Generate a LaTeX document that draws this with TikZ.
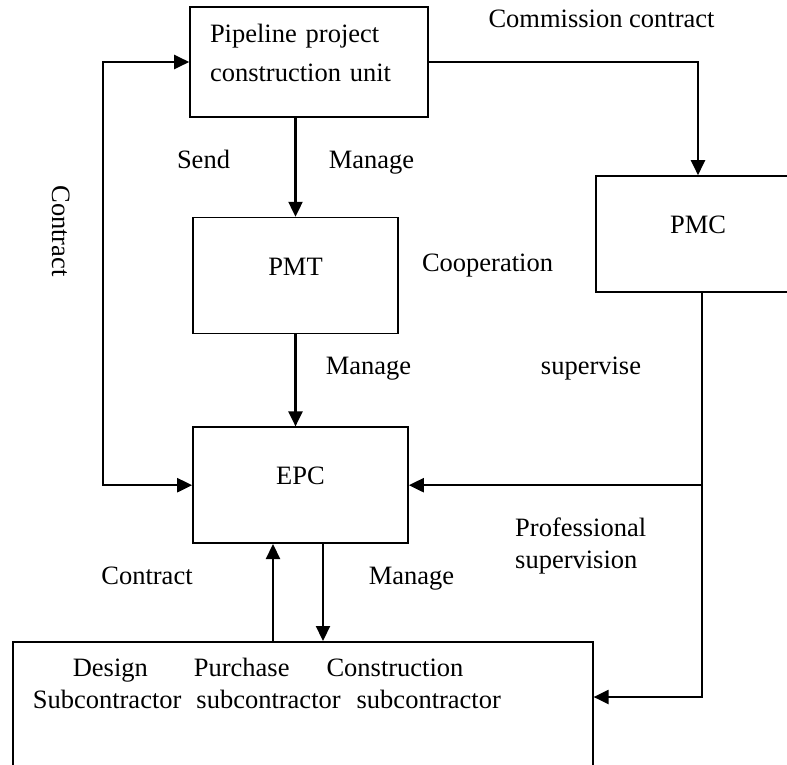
\documentclass[tikz,border=0pt]{standalone}
\usepackage{fontspec}
\setmainfont{Liberation Serif}
\usetikzlibrary{positioning}
\usetikzlibrary{shapes,arrows.meta}
\tikzstyle{block} = [rectangle, draw, line width=1.6pt, 
    text depth=18pt, inner sep=0pt]
\tikzstyle{line} = [draw, line width=2.2pt, ->]
\tikzstyle{tag} = [text height=18pt, text depth=6pt, inner sep=0pt]

\begin{document}
\begin{tikzpicture}[x=1pt, y=-1pt, >={Triangle[length=15pt,width=14pt]},
    font=\fontsize{26.5pt}{32pt}\selectfont]
    \useasboundingbox (0,0) rectangle (787,765);
    \clip (0,0) rectangle (787,765);
        % Nodes
    \node [block, minimum width=238pt, minimum height=110pt, text width=198pt, align=left,
        text depth=58pt, font=\fontsize{26.5pt}{39pt}\selectfont] (unit) at (309,62) {Pipeline project\\construction unit};
    \node [block, minimum width=205pt, minimum height=116pt, below=99pt of unit, xshift=-13.5pt] (pmt) {PMT};
    \node [block, minimum width=215pt, minimum height=116pt, below=92pt of pmt, xshift=5pt] (epc) {EPC};
    \node [block, minimum width=204pt, minimum height=116pt] (pmc) at (698,234) {PMC};
    \node [block, anchor=north west, text width=540pt, inner xsep=20pt, inner ysep=16pt,
        text depth=110pt, align=left] (sub) at (12,641)
        {\hspace*{40pt}Design\hspace{46pt}Purchase\hspace{37pt}Construction\\
         Subcontractor\hspace{15pt}subcontractor\hspace{16pt}subcontractor};
        % Labels
    \node [tag] (commis) at (601.5,22) {Commission contract};
    \node [tag] (send) at (203.5,162) {Send};
    \node [tag] (mng1) at (371.5,162) {Manage};
    \node [tag] (coop) at (487.5,265) {Cooperation};
    \node [tag] (mng2) at (368.5,368) {Manage};
    \node [tag] (superv) at (591,368) {supervise};
    \node [tag, rotate=-90] (contr1) at (58,231) {Contract};
    \node [tag, align=left, anchor=west] (prof) at (515,562) {Professional\\supervision};
    \node [tag] (contr2) at (147,578) {Contract};
    \node [tag] (mng3) at (411.5,578) {Manage};
        % Edges
    \coordinate (cleft) at (103,0);
    \coordinate (sbend) at (702,697);
    \path [line] (unit.south -| pmt.north) -- (pmt.north);
    \path [line] (pmt.south) -- (pmt.south |- epc.north);
    \path [line] (unit.east) -| (pmc.north);
    \path [line, <->] (unit.west) -- (unit.west -| cleft) -- (epc.west -| cleft) -- (epc.west);
    \path [line] (pmc.south -| sbend) -- (sbend) -- (sbend -| sub.east);
    \path [line] (epc.east -| sbend) -- (epc.east);
    \path [line] ([xshift=-27.5pt]epc.south |- sub.north) -- ([xshift=-27.5pt]epc.south);
    \path [line] ([xshift=22.5pt]epc.south) -- ([xshift=22.5pt]epc.south |- sub.north);
\end{tikzpicture}
\end{document}
